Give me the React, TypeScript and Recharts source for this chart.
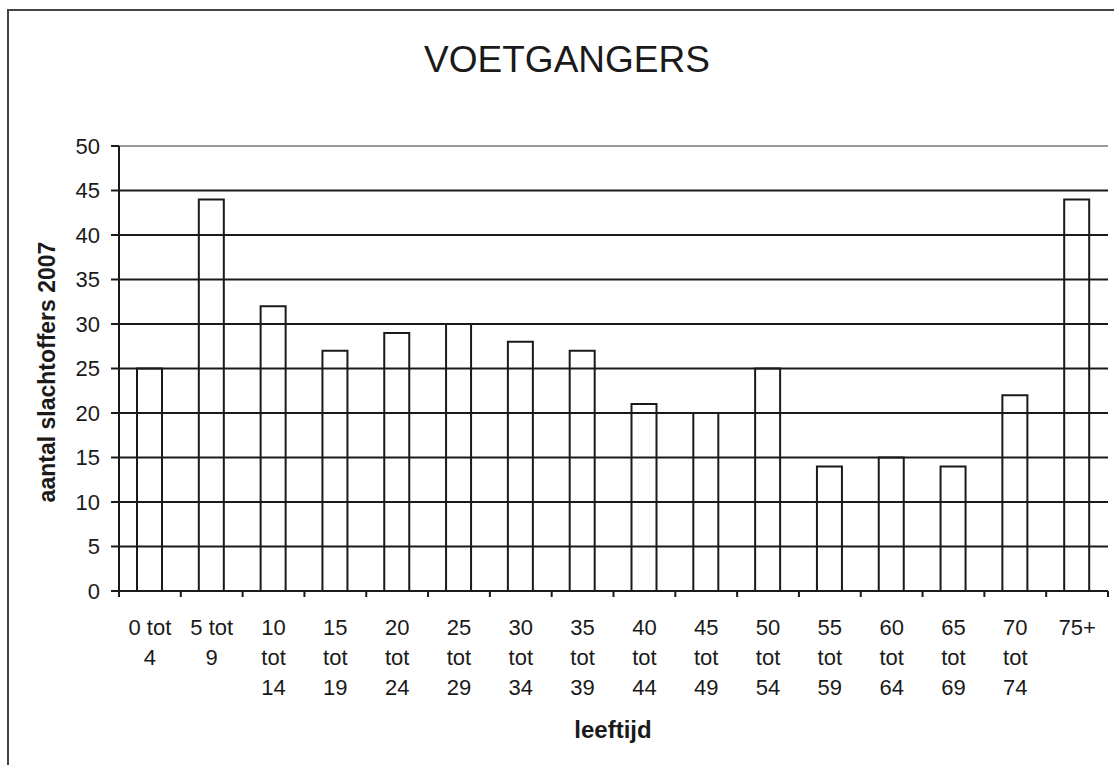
import { BarChart, Bar, XAxis, YAxis, CartesianGrid, ReferenceLine } from "recharts";

const ageGroups = [
    "0 tot\n4",
    "5 tot\n9",
    "10\ntot\n14",
    "15\ntot\n19",
    "20\ntot\n24",
    "25\ntot\n29",
    "30\ntot\n34",
    "35\ntot\n39",
    "40\ntot\n44",
    "45\ntot\n49",
    "50\ntot\n54",
    "55\ntot\n59",
    "60\ntot\n64",
    "65\ntot\n69",
    "70\ntot\n74",
    "75+",
];

const victims = [25, 44, 32, 27, 29, 30, 28, 27, 21, 20, 25, 14, 15, 14, 22, 44];

const yTicks = [0, 5, 10, 15, 20, 25, 30, 35, 40, 45, 50];

const data = ageGroups.map((age, i) => ({ age, victims: victims[i] }));

const W = 1114;
const H = 765;
const PLOT_LEFT = 119;
const PLOT_RIGHT = 1108;
const PLOT_TOP = 146;
const PLOT_BOTTOM = 591;
const BAND = (PLOT_RIGHT - PLOT_LEFT) / ageGroups.length;

const FONT = "'Liberation Sans', Arial, sans-serif";
const INK = "#1a1a1a";

function AgeTick(props: any) {
    const { x, y, payload, index } = props;
    const lines = String(payload.value).split("\n");
    const isLast = index === ageGroups.length - 1;
    return (
        <g>
            <line x1={x - BAND / 2} x2={x - BAND / 2} y1={y} y2={y + 6} stroke={INK} strokeWidth={2} />
            {isLast && (
                <line x1={x + BAND / 2} x2={x + BAND / 2} y1={y} y2={y + 6} stroke={INK} strokeWidth={2} />
            )}
            {lines.map((line, i) => (
                <text
                    key={i}
                    x={x}
                    y={y + 44 + i * 30}
                    textAnchor="middle"
                    fontSize={22}
                    fontFamily={FONT}
                    fill={INK}
                >
                    {line}
                </text>
            ))}
        </g>
    );
}

export default function App() {
    return (
        <div style={{ position: "absolute", left: 0, top: 0, width: W, height: H, overflow: "hidden", background: "#fff" }}>
            <div
                style={{
                    position: "absolute",
                    left: 7,
                    top: 9,
                    width: W + 20,
                    height: H + 20,
                    border: "2px solid #444",
                    boxSizing: "border-box",
                }}
            />
            <div style={{ position: "absolute", left: 0, top: 0 }}>
                <BarChart
                    width={W}
                    height={H}
                    data={data}
                    margin={{ top: PLOT_TOP, right: W - PLOT_RIGHT, left: 0, bottom: 0 }}
                    barCategoryGap={0}
                >
                    <CartesianGrid vertical={false} stroke={INK} strokeWidth={2} horizontalValues={yTicks.slice(1, -1)} />
                    <XAxis
                        dataKey="age"
                        interval={0}
                        height={H - PLOT_BOTTOM}
                        axisLine={{ stroke: INK, strokeWidth: 2 }}
                        tickLine={false}
                        tickSize={0}
                        tickMargin={0}
                        tick={<AgeTick />}
                    />
                    <YAxis
                        domain={[0, 50]}
                        ticks={yTicks}
                        width={PLOT_LEFT}
                        axisLine={{ stroke: INK, strokeWidth: 2 }}
                        tickLine={{ stroke: INK, strokeWidth: 2 }}
                        tickSize={8}
                        tickMargin={11}
                        tick={{ fill: INK, fontSize: 22, fontFamily: FONT }}
                    />
                    <YAxis
                        yAxisId="frame"
                        orientation="right"
                        width={0}
                        domain={[0, 50]}
                        tick={false}
                        tickLine={false}
                        axisLine={{ stroke: "#999", strokeWidth: 2 }}
                    />
                    <ReferenceLine y={50} stroke="#999" strokeWidth={2} />
                    <Bar
                        dataKey="victims"
                        barSize={25}
                        fill="transparent"
                        stroke={INK}
                        strokeWidth={2}
                        isAnimationActive={false}
                    />
                </BarChart>
            </div>
            <svg
                width={W}
                height={H}
                style={{ position: "absolute", left: 0, top: 0, pointerEvents: "none" }}
            >
                <text x={567} y={72} textAnchor="middle" fontSize={37} fontFamily={FONT} fill={INK}>
                    VOETGANGERS
                </text>
                <text
                    x={55}
                    y={372}
                    transform="rotate(-90 55 372)"
                    textAnchor="middle"
                    fontSize={23}
                    fontWeight="bold"
                    fontFamily={FONT}
                    fill={INK}
                >
                    aantal slachtoffers 2007
                </text>
                <text x={613} y={738} textAnchor="middle" fontSize={24} fontWeight="bold" fontFamily={FONT} fill={INK}>
                    leeftijd
                </text>
            </svg>
        </div>
    );
}
